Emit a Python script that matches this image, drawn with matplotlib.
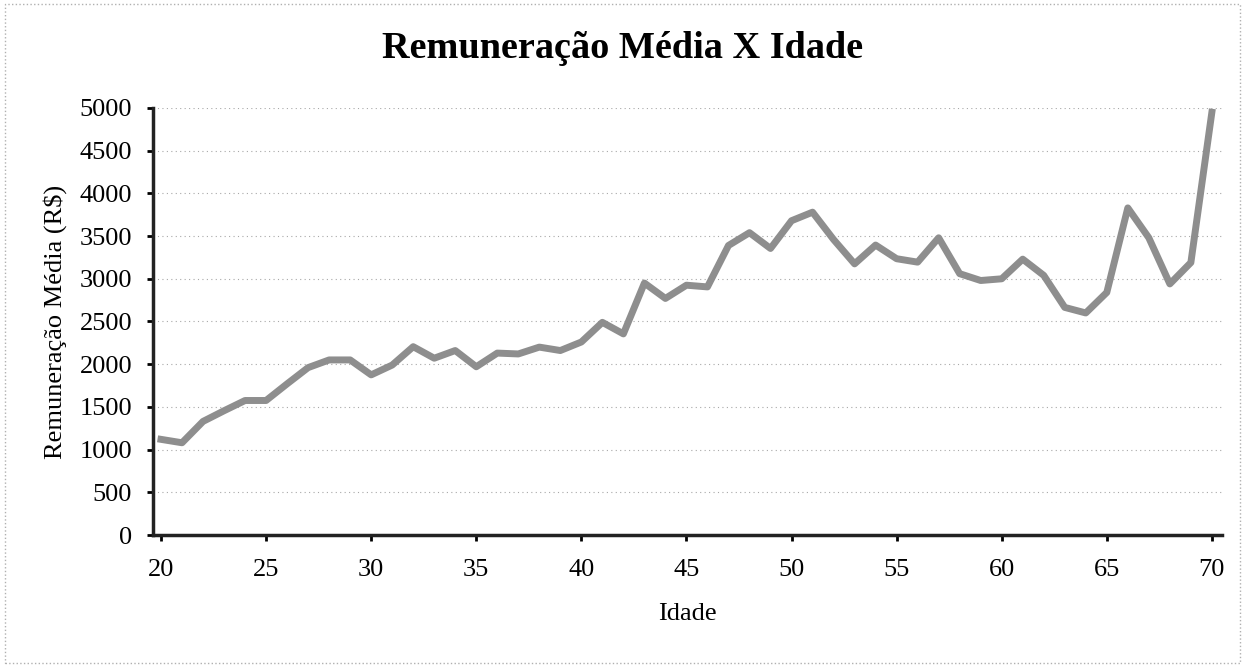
import matplotlib.pyplot as plt
from matplotlib.patches import Rectangle

idade = list(range(20, 71))
remuneracao = [1120, 1080, 1330, 1455, 1575, 1575, 1770, 1960, 2050, 2050,
               1875, 1990, 2205, 2070, 2160, 1970, 2130, 2120, 2200, 2160,
               2260, 2490, 2355, 2950, 2770, 2925, 2905, 3390, 3540, 3355,
               3680, 3780, 3460, 3175, 3395, 3235, 3195, 3480, 3060, 2980,
               3000, 3230, 3040, 2665, 2600, 2840, 3830, 3480, 2940, 3190,
               4950]
yticks = list(range(0, 5001, 500))
xticks = list(range(20, 71, 5))

plt.rcParams['font.family'] = ['Liberation Serif', 'DejaVu Serif']

fig = plt.figure(figsize=(12.45, 6.67), dpi=100)
ax = fig.add_axes([0.1229, 0.1979, 0.8586, 0.6402])

ax.plot(idade, remuneracao, color='#8e8e8e', linewidth=5, solid_joinstyle='round')

ax.set_xlim(19.62, 70.48)
ax.set_ylim(0, 5000)
ax.set_xticks(xticks)
ax.set_yticks(yticks)
ax.tick_params(axis='both', labelsize=19, direction='out', length=4, width=2, pad=13)
ax.tick_params(axis='y', pad=11)

for y in yticks[1:]:
    ax.axhline(y, color='#a8a8a8', linestyle=(0, (1, 3)), linewidth=0.8, zorder=0)

for s in ['top', 'right']:
    ax.spines[s].set_visible(False)
for s in ['left', 'bottom']:
    ax.spines[s].set_linewidth(2.5)
    ax.spines[s].set_color('#222222')

ax.set_xlabel('Idade', fontsize=19, labelpad=16)
ax.set_ylabel('Remuneração Média (R$)', fontsize=19, labelpad=9)
fig.text(0.5, 0.928, 'Remuneração Média X Idade', ha='center', va='center',
         fontsize=27.5, fontweight='bold')

fig.patches.append(Rectangle((0.004, 0.006), 0.992, 0.988, transform=fig.transFigure,
                             fill=False, edgecolor='#b0b0b0', linestyle=':', linewidth=1))

fig.savefig('out.png', dpi=100)
